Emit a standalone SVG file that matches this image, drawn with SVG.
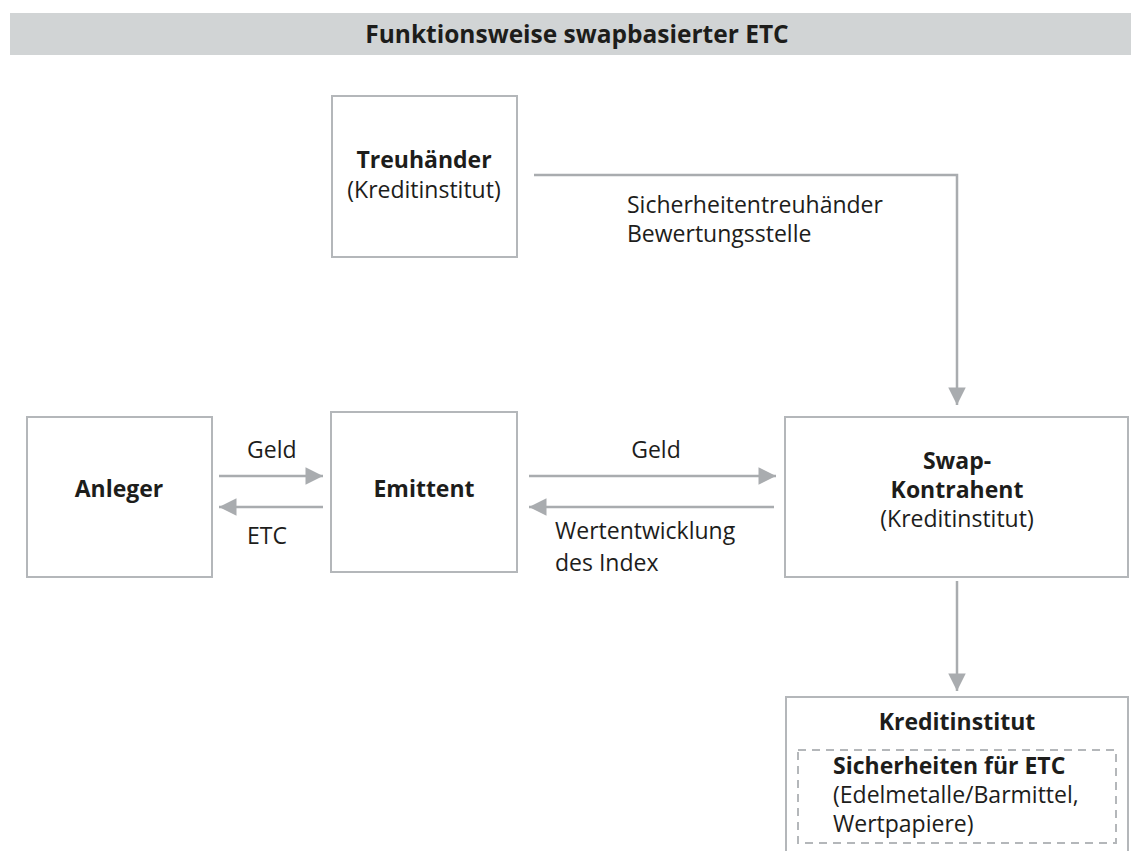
<svg xmlns="http://www.w3.org/2000/svg" width="1131" height="851" viewBox="0 0 1131 851">
<style>
.box{fill:#ffffff;stroke:#b4b7ba;stroke-width:2}
.dash{fill:none;stroke:#b4b7ba;stroke-width:2;stroke-dasharray:8 6}
.con{fill:none;stroke:#a9acaf;stroke-width:2.5}
.t{font-family:"Open Sans","Noto Sans","Liberation Sans",sans-serif;font-size:23px;fill:#1d1d1b}
.b{font-weight:bold}
.m{text-anchor:middle}
</style>
<defs>
<marker id="ah" viewBox="0 0 10 10" refX="10" refY="5" markerWidth="7.5" markerHeight="7" markerUnits="strokeWidth" orient="auto">
<path d="M0,0 L10,5 L0,10 Z" fill="#a9acaf"/>
</marker>
</defs>
<rect x="10" y="13" width="1121" height="42" fill="#d1d4d5"/>
<text class="t b m" x="577" y="43" style="font-size:24.5px">Funktionsweise swapbasierter ETC</text>

<g id="connectors">
<path class="con" d="M534,175 H957 V405" marker-end="url(#ah)"/>
<path class="con" d="M219,476 H323" marker-end="url(#ah)"/>
<path class="con" d="M323,507 H219" marker-end="url(#ah)"/>
<path class="con" d="M529,476 H776" marker-end="url(#ah)"/>
<path class="con" d="M774,507 H529" marker-end="url(#ah)"/>
<path class="con" d="M957,581 V691" marker-end="url(#ah)"/>
<text class="t" x="627" y="213">Sicherheitentreuhänder</text>
<text class="t" x="627" y="242">Bewertungsstelle</text>
<text class="t" x="247" y="458">Geld</text>
<text class="t" x="247" y="544">ETC</text>
<text class="t m" x="656" y="458">Geld</text>
<text class="t" x="555" y="539">Wertentwicklung</text>
<text class="t" x="555" y="571">des Index</text>
</g>

<g id="treuhaender">
<rect class="box" x="332" y="96" width="185" height="161"/>
<text class="t b m" x="424" y="168">Treuhänder</text>
<text class="t m" x="424" y="198">(Kreditinstitut)</text>
</g>

<g id="anleger">
<rect class="box" x="27" y="417" width="185" height="160"/>
<text class="t b m" x="119" y="497">Anleger</text>
</g>

<g id="emittent">
<rect class="box" x="331" y="412" width="186" height="160"/>
<text class="t b m" x="424" y="497">Emittent</text>
</g>

<g id="swap">
<rect class="box" x="785" y="417" width="343" height="160"/>
<text class="t b m" x="957" y="469">Swap-</text>
<text class="t b m" x="957" y="498">Kontrahent</text>
<text class="t m" x="957" y="527">(Kreditinstitut)</text>
</g>

<g id="kreditinstitut">
<rect class="box" x="786" y="697" width="342" height="170"/>
<text class="t b m" x="957" y="730">Kreditinstitut</text>
<rect class="dash" x="798" y="750" width="318" height="93"/>
<text class="t b" x="833" y="774">Sicherheiten für ETC</text>
<text class="t" x="833" y="803">(Edelmetalle/Barmittel,</text>
<text class="t" x="833" y="832">Wertpapiere)</text>
</g>
</svg>
